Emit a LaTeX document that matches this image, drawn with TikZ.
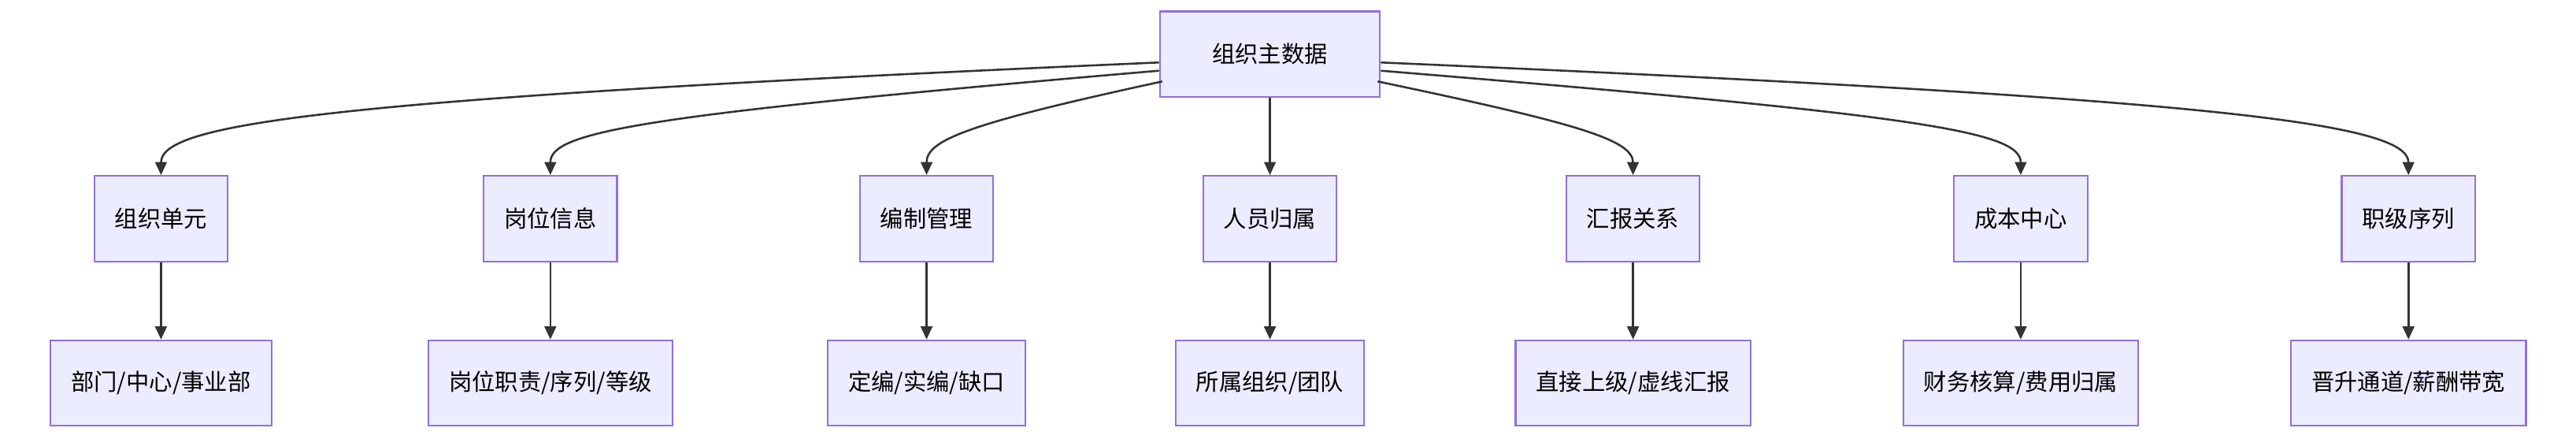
\documentclass[tikz,border=0pt]{standalone}
\usepackage{fontspec}
\setmainfont{Noto Sans CJK SC}
\usetikzlibrary{arrows.meta,positioning}
\definecolor{boxfill}{HTML}{ECECFF}
\definecolor{boxline}{HTML}{9370DB}
\definecolor{edgecol}{HTML}{333333}
\begin{document}
\begin{tikzpicture}[x=0.04cm,y=-0.04cm,
  >={Triangle[length=9pt,width=8pt]},
  box/.style={rectangle,draw=boxline,fill=boxfill,line width=1.2pt,
    text=black,font=\fontsize{16}{19}\selectfont,minimum height=2.08cm,inner xsep=0.5cm},
  link/.style={->,draw=edgecol,line width=1.4pt}]

  \useasboundingbox (0,0) rectangle (1568,267);

  \node[box,minimum width=5.36cm] (root) at (773,33) {组织主数据};

  % second row
  \node[box] (unit)  at (98,133)  {组织单元};
  \node[box] (post)  at (335,133) {岗位信息};
  \node[box] (quota) at (564,133) {编制管理};
  \node[box] (staff) at (773,133) {人员归属};
  \node[box] (rep)   at (994,133) {汇报关系};
  \node[box] (cost)  at (1230,133) {成本中心};
  \node[box] (rank)  at (1466,133) {职级序列};

  % third row
  \node[box] (unitd)  at (98,233)  {部门/中心/事业部};
  \node[box] (postd)  at (335,233) {岗位职责/序列/等级};
  \node[box] (quotad) at (564,233) {定编/实编/缺口};
  \node[box] (staffd) at (773,233) {所属组织/团队};
  \node[box] (repd)   at (994,233) {直接上级/虚线汇报};
  \node[box] (costd)  at (1230,233) {财务核算/费用归属};
  \node[box] (rankd)  at (1466,233) {晋升通道/薪酬带宽};

  \draw[link] (root.west) ++(0,5) .. controls (200,60) and (98,75) .. (unit.north);
  \draw[link] (root.west) ++(0,10) .. controls (390,70) and (335,80) .. (post.north);
  \draw[link] (root.south west) ++(2,-10) .. controls (590,75) and (564,85) .. (quota.north);
  \draw[link] (root) -- (staff);
  \draw[link] (root.south east) ++(-2,-10) .. controls (960,75) and (994,85) .. (rep.north);
  \draw[link] (root.east) ++(0,10) .. controls (1170,70) and (1230,80) .. (cost.north);
  \draw[link] (root.east) ++(0,5) .. controls (1350,60) and (1466,75) .. (rank.north);

  \foreach \a in {unit,post,quota,staff,rep,cost,rank}
    \draw[link] (\a) -- (\a d);
\end{tikzpicture}
\end{document}
